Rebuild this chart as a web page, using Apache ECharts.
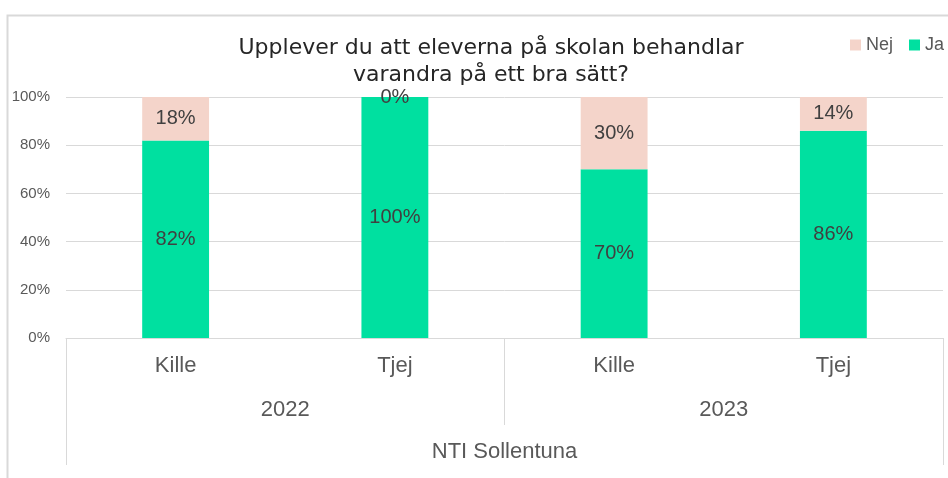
<!DOCTYPE html>
<html><head><meta charset="utf-8">
<script src="https://cdn.jsdelivr.net/npm/echarts@6/dist/echarts.min.js"></script>
<style>html,body{margin:0;padding:0;background:#fff}#c{width:948px;height:478px}</style>
</head><body><div id="c"></div>
<script>
const categories = ['Kille', 'Tjej', 'Kille', 'Tjej'];
const years = ['2022', '2023'];
const school = ['NTI Sollentuna'];
const jaValues = [82, 100, 70, 86];
const nejValues = [18, 0, 30, 14];
const yTicks = [0, 20, 40, 60, 80, 100];

const FONT = '"Liberation Sans", Arial, sans-serif';
const TFONT = '"DejaVu Sans", sans-serif';
const chart = echarts.init(document.getElementById('c'), null, {renderer: 'canvas'});
const gray = '#595959';
const lineGray = '#d9d9d9';
chart.setOption({
  animation: false,
  textStyle: {fontFamily: FONT},
  graphic: [{
    type: 'rect', shape: {x: 7.5, y: 15.5, width: 960, height: 480},
    style: {fill: 'none', stroke: '#d9d9d9', lineWidth: 2}, silent: true, z: -1
  }],
  title: {
    text: 'Upplever du att eleverna på skolan behandlar\nvarandra på ett bra sätt?',
    left: 486, top: 30, textAlign: 'center',
    textStyle: {fontFamily: TFONT, fontSize: 22, fontWeight: 'normal', color: '#262626', lineHeight: 27}
  },
  legend: {
    data: ['Nej', 'Ja'], orient: 'horizontal', right: 4, top: 36, padding: 0,
    itemWidth: 11, itemHeight: 11, itemGap: 16,
    textStyle: {fontFamily: FONT, fontSize: 18, color: gray}, icon: 'rect'
  },
  grid: {left: 66, right: 5, top: 97, bottom: 140},
  xAxis: [{
    type: 'category', data: categories, position: 'bottom',
    axisLine: {show: true, lineStyle: {color: lineGray, width: 1}},
    axisTick: {show: false},
    axisLabel: {color: gray, fontSize: 22, margin: 17, fontFamily: FONT}
  }, {
    type: 'category', data: years, position: 'bottom',
    axisLine: {show: false},
    axisTick: {show: true, length: 87, lineStyle: {color: lineGray}},
    axisLabel: {color: gray, fontSize: 22, margin: 61, fontFamily: FONT}
  }, {
    type: 'category', data: school, position: 'bottom',
    axisLine: {show: false},
    axisTick: {show: true, length: 127, lineStyle: {color: lineGray}},
    axisLabel: {color: gray, fontSize: 22, margin: 103, fontFamily: FONT}
  }],
  yAxis: {
    type: 'value', min: yTicks[0], max: yTicks[yTicks.length - 1], interval: 20,
    axisLine: {show: false}, axisTick: {show: false},
    axisLabel: {formatter: '{value}%', color: gray, fontSize: 15, margin: 16, fontFamily: FONT},
    splitLine: {lineStyle: {color: lineGray, width: 1}}
  },
  series: [{
    name: 'Ja', type: 'bar', stack: 's', data: jaValues, barWidth: '30.5%',
    itemStyle: {color: '#00e0a0'},
    label: {show: true, position: 'inside', formatter: '{c}%', color: '#404040', fontSize: 20, fontFamily: FONT}
  }, {
    name: 'Nej', type: 'bar', stack: 's', data: nejValues, barWidth: '30.5%',
    itemStyle: {color: '#f4d4ca'},
    label: {show: true, position: 'inside', formatter: '{c}%', color: '#404040', fontSize: 20, fontFamily: FONT}
  }]
});
</script></body></html>
